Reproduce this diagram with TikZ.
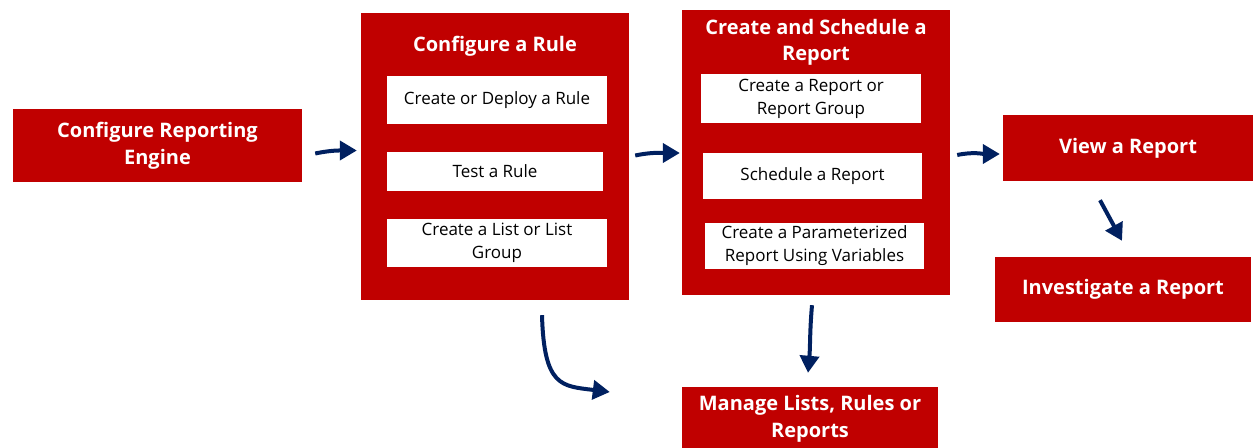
\documentclass[tikz,border=0pt]{standalone}
\usepackage{fontspec}
\setmainfont{Open Sans}
\usetikzlibrary{arrows.meta}

\definecolor{boxred}{HTML}{C00000}
\definecolor{navy}{HTML}{002060}

\tikzset{
	redbox/.style={fill=boxred, inner sep=0pt, text=white, align=center,
		font=\fontsize{20}{26.5}\selectfont\bfseries},
	whitebox/.style={fill=white, inner sep=0pt, text=black, align=center,
		font=\fontsize{17}{23}\selectfont},
	flow/.style={navy, line width=4pt, -{Triangle[width=19pt,length=17pt]}},
}

\begin{document}
\begin{tikzpicture}[x=1pt,y=1pt]
	\useasboundingbox (0,0) rectangle (1255,-447);

	% ENGINE
	\node[redbox, minimum width=289, minimum height=73] (engine) at (157.5,-145.5) {Configure Reporting\\Engine};

	% RULE
	\node[redbox, minimum width=268, minimum height=287] (rule) at (495,-156.5) {};
	\node[redbox] (ruletitle) at (495,-46) {Configure a Rule};
	\node[whitebox, minimum width=220, minimum height=48] (deploy) at (497,-100) {\strut Create or Deploy a Rule};
	\node[whitebox, minimum width=216, minimum height=39] (test) at (495,-171.5) {Test a Rule};
	\node[whitebox, minimum width=220, minimum height=48] (list) at (497,-243) {Create a List or List\\Group};

	% REPORT
	\node[redbox, minimum width=268, minimum height=285] (sched) at (816,-152.5) {};
	\node[redbox] (schedtitle) at (816,-42.5) {Create and Schedule a\\Report};
	\node[whitebox, minimum width=220, minimum height=49] (create) at (811,-98.5) {Create a Report or\\Report Group};
	\node[whitebox, minimum width=219, minimum height=46] (schedule) at (812.5,-176) {Schedule a Report};
	\node[whitebox, minimum width=219, minimum height=46] (param) at (814.5,-246) {Create a Parameterized\\Report Using Variables};

	% VIEW
	\node[redbox, minimum width=250, minimum height=66] (view) at (1128,-148) {View a Report};
	\node[redbox, minimum width=256, minimum height=65] (inv) at (1123,-289.5) {Investigate a Report};
	\node[redbox, minimum width=256, minimum height=64] (manage) at (810,-419) {Manage Lists, Rules or\\Reports};

	% ARROWS
	\draw[flow] ([xshift=13pt,yshift=-8pt]engine.east) to[out=12,in=180] ([xshift=-4pt,yshift=6pt]rule.west);
	\draw[flow] ([xshift=6pt,yshift=1pt]rule.east) to[out=12,in=180] ([xshift=-2pt,yshift=-0.5pt]sched.west);
	\draw[flow] ([xshift=7pt,yshift=-2.5pt]sched.east) to[out=12,in=180] ([xshift=-3pt,yshift=-6pt]view.west);
	\draw[flow] ([xshift=-28pt,yshift=-19pt]view.south) -- ([xshift=-1pt,yshift=16pt]inv.north);
	\draw[flow] ([xshift=-4pt,yshift=-10pt]sched.south) to[out=-95,in=85] ([xshift=-2pt,yshift=14pt]manage.north);
	\draw[flow] ([xshift=47pt,yshift=-15pt]rule.south) .. controls +(2,-72) and +(-48,6) .. ([xshift=-72pt,yshift=27pt]manage.west);
\end{tikzpicture}
\end{document}
